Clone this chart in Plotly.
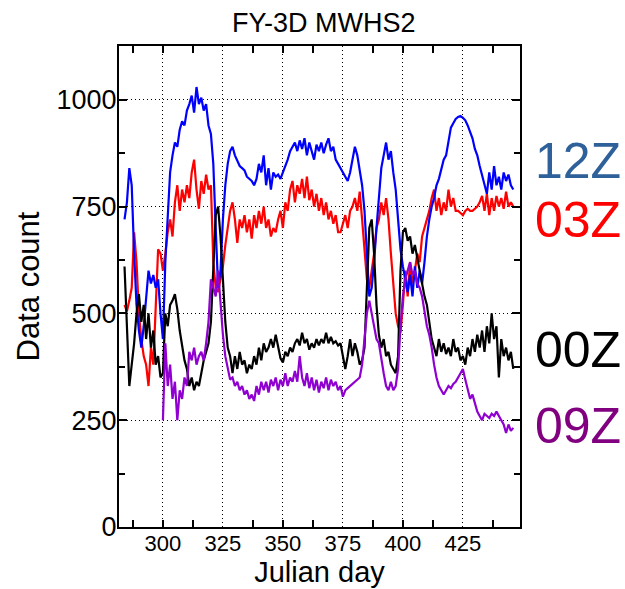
import plotly.graph_objects as go

# Julian days for the three full-length series
days = list(range(284, 447))
# 09Z series starts later
days_09z = list(range(300, 447))

count_12z = [
    720, 760, 840, 800, 640, 520, 460, 420, 470, 540,   # 284-293
    600, 570, 590, 560, 580, 500, 440, 620, 730, 830,   # 294-303
    870, 900, 890, 930, 950, 940, 975, 990, 1010, 970,  # 304-313
    1030, 990, 1005, 975, 990, 940, 920, 850, 700, 560, # 314-323
    600, 720, 800, 850, 880, 890, 870, 855, 845, 840,   # 324-333
    835, 820, 815, 810, 800, 815, 850, 830, 870, 800,   # 334-343
    840, 790, 830, 820, 825, 815, 830, 845, 860, 880,   # 344-353
    890, 900, 880, 905, 885, 910, 870, 900, 880, 860,   # 354-363
    895, 880, 900, 875, 895, 910, 880, 890, 860, 850,   # 364-373
    840, 830, 820, 810, 830, 860, 890, 870, 830, 800,   # 374-383
    740, 640, 540, 560, 620, 700, 780, 840, 870, 900,   # 384-393
    860, 880, 830, 790, 720, 650, 610, 580, 550, 590,   # 394-403
    540, 610, 560, 600, 570, 620, 680, 720, 750, 770,   # 404-413
    800, 815, 840, 860, 870, 900, 935, 945, 955, 960,   # 414-423
    962, 958, 952, 940, 925, 910, 885, 870, 845, 825,   # 424-433
    800, 780, 830, 790, 845, 800, 820, 790, 830, 810,   # 434-443
    825, 800, 790,                                      # 444-446
]

count_03z = [
    520, 505, 530, 560, 690, 620, 500, 440, 400, 380,   # 284-293
    330, 420, 380, 520, 650, 640, 600, 640, 690, 720,   # 294-303
    680, 760, 800, 740, 790, 760, 800, 770, 830, 860,   # 304-313
    790, 745, 810, 780, 825, 790, 800, 620, 560, 550,   # 314-323
    580, 610, 660, 700, 740, 760, 720, 665, 720, 700,   # 324-333
    730, 690, 720, 675, 730, 700, 740, 710, 750, 700,   # 334-343
    720, 680, 700, 690, 720, 740, 700, 760, 740, 790,   # 344-353
    810, 760, 800, 780, 815, 770, 820, 765, 790, 750,   # 354-363
    780, 740, 770, 730, 760, 720, 740, 710, 730, 690,   # 364-373
    690, 710, 730, 700, 740, 750, 770, 740, 785, 720,   # 374-383
    640, 580, 560, 600, 640, 700, 720, 760, 730, 770,   # 384-393
    720, 640, 560, 500, 470, 455, 520, 600, 540, 620,   # 394-403
    570, 600, 640, 620, 680, 700, 720, 740, 770, 790,   # 404-413
    740, 770, 730, 760, 740, 790, 750, 770, 740, 740,   # 414-423
    735, 730, 740, 745, 740, 740, 745, 750, 760, 775,   # 424-433
    740, 780, 730, 770, 740, 775, 750, 770, 745, 785,   # 434-443
    750, 760, 750,                                      # 444-446
]

count_00z = [
    610, 480, 330, 380, 430, 500, 545, 480, 520, 440,   # 284-293
    500, 420, 460, 380, 400, 350, 360, 500, 470, 520,   # 294-303
    530, 545, 510, 460, 420, 390, 370, 330, 350, 320,   # 304-313
    340, 330, 360, 390, 410, 430, 480, 620, 730, 750,   # 314-323
    680, 580, 480, 420, 400, 360, 400, 370, 410, 380,   # 324-333
    390, 360, 380, 370, 400, 380, 420, 390, 430, 410,   # 334-343
    420, 440, 420, 450, 420, 395, 385, 410, 400, 420,   # 344-353
    410, 430, 440, 425, 455, 430, 440, 415, 430, 420,   # 354-363
    440, 425, 440, 430, 455, 430, 445, 430, 435, 425,   # 364-373
    430, 400, 370, 400, 440, 400, 430, 410, 380, 390,   # 374-383
    420, 560, 700, 720, 640, 520, 450, 420, 440, 400,   # 384-393
    410, 380, 370, 360, 400, 600, 690, 700, 670, 680,   # 394-403
    640, 660, 630, 600, 570, 540, 520, 480, 440, 420,   # 404-413
    400, 440, 410, 430, 405, 420, 400, 440, 410, 420,   # 414-423
    390, 400, 380, 420, 400, 440, 410, 450, 420, 460,   # 424-433
    410, 470, 430, 500, 440, 470, 350, 440, 400, 420,   # 434-443
    390, 410, 370,                                      # 444-446
]

count_09z = [
    250, 430, 330, 380, 300, 340, 250, 320, 300, 350,   # 300-309
    330, 410, 390, 420, 380, 400, 410, 390, 430, 480,   # 310-319
    580, 560, 540, 600, 520, 450, 400, 370, 345, 350,   # 320-329
    330, 340, 320, 330, 310, 320, 300, 310, 295, 330,   # 330-339
    310, 340, 320, 340, 315, 345, 330, 350, 320, 345,   # 340-349
    330, 360, 330, 350, 340, 365, 340, 400, 350, 330,   # 350-359
    360, 325, 350, 320, 345, 315, 340, 325, 350, 320,   # 360-369
    345, 330, 340, 320, 330, 305, 320, 325, 330, 335,   # 370-379
    340, 345, 350, 380, 450, 500, 530, 500, 470, 440,   # 380-389
    430, 390, 360, 330, 320, 340, 320, 330, 370, 470,   # 390-399
    540, 580, 600, 620, 590, 600, 570, 560, 540, 500,   # 400-409
    470, 450, 420, 380, 350, 330, 320, 310, 320, 330,   # 410-419
    325, 335, 340, 350, 360, 370, 345, 320, 300, 310,   # 420-429
    290, 270, 260, 250, 265, 260, 255, 265, 260, 270,   # 430-439
    258, 250, 240, 220, 240, 225, 232,                  # 440-446
]

x_ticks = [300, 325, 350, 375, 400, 425]
y_ticks = [0, 250, 500, 750, 1000]

series = [
    ("03Z", days, count_03z, "#FF0000"),
    ("12Z", days, count_12z, "#0000FF"),
    ("00Z", days, count_00z, "#000000"),
    ("09Z", days_09z, count_09z, "#9000D0"),
]

fig = go.Figure()
for name, xs, ys, color in series:
    fig.add_trace(go.Scatter(x=xs, y=ys, mode="lines", name=name,
                             line=dict(color=color, width=2.2),
                             showlegend=False))

FONT = "Liberation Sans, Arial, sans-serif"
GRID_DASH = "1px,3px"

fig.update_layout(
    width=625, height=589,
    margin=dict(l=119, r=105, t=46, b=62),
    paper_bgcolor="white", plot_bgcolor="white",
    font=dict(family=FONT, color="black"),
    title=dict(text="FY-3D MWHS2", x=0.518, xanchor="center",
               y=0.962, yanchor="middle", font=dict(size=27)),
)

fig.update_xaxes(
    range=[281.7, 448.8], automargin=False,
    tickvals=x_ticks, ticktext=[str(v) for v in x_ticks],
    ticks="", tickfont=dict(size=22), ticklabelstandoff=-4,
    showgrid=True, gridcolor="black", griddash=GRID_DASH, gridwidth=1,
    showline=True, linecolor="black", linewidth=2, mirror="ticks",
    zeroline=False,
    minor=dict(tickvals=[287.5, 300, 312.5, 337.5, 350, 362.5,
                         387.5, 400, 412.5, 437.5],
               ticks="inside", ticklen=7, tickwidth=2, tickcolor="black",
               showgrid=False),
    title=dict(text="Julian day", font=dict(size=29), standoff=3),
)

fig.update_yaxes(
    range=[0, 1126], automargin=False,
    tickvals=y_ticks, ticktext=[str(v) for v in y_ticks],
    ticks="inside", ticklen=8, tickwidth=2, tickcolor="black",
    tickfont=dict(size=27), ticklabelstandoff=-5,
    showgrid=True, gridcolor="black", griddash=GRID_DASH, gridwidth=1,
    showline=True, linecolor="black", linewidth=2, mirror="ticks",
    zeroline=False,
    minor=dict(tickvals=[125, 375, 625, 875, 1125],
               ticks="inside", ticklen=6, tickwidth=2, tickcolor="black",
               showgrid=False),
    title=dict(text="Data count", font=dict(size=31), standoff=8),
)

# Series labels to the right of the plot
labels = [
    ("12Z", "#2E6099", 161),
    ("03Z", "#FF0000", 220),
    ("00Z", "#000000", 350),
    ("09Z", "#800080", 426),
]
for text, color, ypx in labels:
    fig.add_annotation(
        text=text, xref="paper", yref="paper",
        x=(578 - 119) / (625 - 119 - 105), y=(527 - ypx) / (527 - 46),
        xanchor="center", yanchor="middle", showarrow=False,
        font=dict(size=50, color=color, family=FONT),
    )

fig.write_html("out.html")
